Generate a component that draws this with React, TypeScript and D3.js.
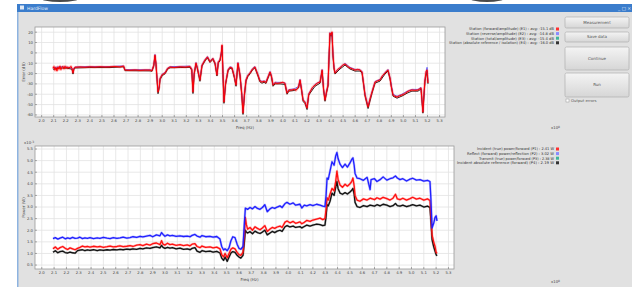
import React from 'react';
import * as d3 from 'd3';

// x in units of 1e8 Hz
const errRed: [number, number][] = [
  [2.094,-15.0],[2.102,-13.2],[2.110,-16.8],[2.118,-14.1],[2.127,-17.5],[2.135,-13.6],[2.143,-15.9],[2.152,-12.8],[2.160,-16.2],[2.168,-14.0],[2.177,-13.1],[2.185,-15.6],[2.194,-12.9],[2.202,-14.8],[2.210,-13.5],[2.218,-15.1],[2.227,-13.8],[2.235,-14.4],[2.243,-13.0],[2.252,-15.2],[2.260,-19.5],[2.268,-15.0],[2.277,-14.0],[2.318,-13.6],[2.360,-13.9],[2.401,-13.5],[2.442,-13.8],[2.484,-13.4],[2.525,-13.7],[2.567,-13.5],[2.608,-13.2],[2.650,-13.6],[2.680,-12.8],[2.691,-16.6],[2.733,-16.8],[2.775,-16.5],[2.816,-16.9],[2.858,-16.6],[2.899,-16.7],[2.915,-17.2],[2.930,-12.0],[2.940,-2.1],[2.948,-10.0],[2.957,-25.0],[2.965,-37.8],[2.975,-33.0],[2.982,-25.0],[3.000,-21.0],[3.023,-19.5],[3.045,-15.0],[3.065,-13.7],[3.100,-14.2],[3.148,-13.5],[3.190,-13.8],[3.230,-13.2],[3.245,-16.0],[3.255,-37.8],[3.265,-20.0],[3.280,-9.8],[3.290,-14.0],[3.313,-26.2],[3.330,-12.0],[3.355,-6.9],[3.375,-4.0],[3.396,-8.5],[3.420,-5.5],[3.438,-10.0],[3.454,-21.4],[3.465,-9.0],[3.479,-6.9],[3.490,0.0],[3.496,7.6],[3.504,-20.0],[3.512,-47.5],[3.525,-30.0],[3.546,-16.6],[3.562,-14.0],[3.579,-14.6],[3.600,-24.0],[3.612,-31.1],[3.628,-9.8],[3.645,-21.4],[3.660,-40.0],[3.670,-58.1],[3.682,-40.0],[3.695,-26.2],[3.710,-22.0],[3.728,-19.5],[3.750,-15.5],[3.769,-13.7],[3.794,-21.4],[3.810,-27.0],[3.827,-28.2],[3.845,-27.5],[3.860,-28.6],[3.894,-18.5],[3.905,-22.0],[3.919,-31.1],[3.935,-29.0],[3.952,-29.5],[3.977,-29.1],[4.000,-28.5],[4.018,-29.5],[4.035,-38.8],[4.050,-36.0],[4.076,-35.9],[4.095,-35.3],[4.110,-36.2],[4.130,-33.0],[4.143,-26.2],[4.155,-35.0],[4.168,-45.6],[4.185,-48.0],[4.201,-53.3],[4.215,-40.0],[4.226,-37.8],[4.245,-33.5],[4.267,-31.1],[4.290,-29.0],[4.309,-28.2],[4.326,-16.6],[4.338,-35.0],[4.350,-45.6],[4.362,-38.0],[4.375,-31.1],[4.383,-5.0],[4.391,19.2],[4.400,17.0],[4.408,20.2],[4.416,-2.0],[4.425,-14.6],[4.433,-19.5],[4.455,-16.0],[4.474,-14.6],[4.495,-12.0],[4.516,-10.8],[4.537,-13.0],[4.557,-14.6],[4.578,-15.5],[4.599,-16.6],[4.620,-16.0],[4.640,-16.6],[4.657,-18.5],[4.670,-30.0],[4.682,-40.7],[4.695,-47.0],[4.707,-52.3],[4.722,-45.0],[4.740,-37.8],[4.765,-28.2],[4.785,-27.0],[4.806,-26.2],[4.827,-22.0],[4.847,-19.5],[4.872,-16.6],[4.889,-24.3],[4.900,-33.0],[4.914,-40.7],[4.930,-42.0],[4.947,-42.7],[4.968,-41.5],[4.988,-40.7],[5.010,-39.5],[5.030,-37.8],[5.050,-36.5],[5.071,-35.9],[5.095,-36.2],[5.121,-35.9],[5.146,-34.0],[5.154,-45.0],[5.162,-57.2],[5.170,-40.0],[5.179,-26.2],[5.188,-18.0],[5.196,-16.6],[5.204,-29.1],
];
const errBlack: [number, number][] = [
  [2.094,-15.8],[2.152,-14.6],[2.210,-14.8],[2.252,-15.8],[2.260,-20.5],[2.268,-15.8],[2.277,-14.6],[2.400,-14.2],[2.567,-14.2],[2.680,-13.5],[2.691,-17.2],[2.899,-17.4],[2.915,-17.8],[2.930,-12.8],[2.940,-3.0],[2.948,-11.0],[2.957,-26.0],[2.965,-39.5],[2.975,-34.2],[2.982,-26.0],[3.000,-22.0],[3.023,-20.3],[3.045,-15.8],[3.065,-14.4],[3.148,-14.2],[3.230,-14.0],[3.245,-16.8],[3.255,-39.3],[3.265,-21.0],[3.280,-10.8],[3.290,-14.8],[3.313,-27.5],[3.330,-12.8],[3.355,-7.8],[3.375,-4.8],[3.396,-9.3],[3.420,-6.3],[3.438,-10.8],[3.454,-22.4],[3.465,-9.8],[3.479,-7.8],[3.490,-0.8],[3.496,6.6],[3.504,-21.0],[3.512,-48.8],[3.525,-31.0],[3.546,-17.4],[3.562,-14.8],[3.579,-15.4],[3.600,-25.0],[3.612,-32.3],[3.628,-10.8],[3.645,-22.4],[3.660,-41.3],[3.670,-59.5],[3.682,-41.3],[3.695,-27.3],[3.710,-23.0],[3.728,-20.3],[3.750,-16.3],[3.769,-14.5],[3.794,-22.4],[3.810,-28.0],[3.827,-29.3],[3.845,-28.5],[3.860,-29.6],[3.894,-19.5],[3.905,-23.0],[3.919,-32.3],[3.935,-30.0],[3.977,-30.0],[4.018,-30.5],[4.035,-40.0],[4.050,-37.0],[4.095,-36.4],[4.130,-34.0],[4.143,-27.3],[4.155,-36.0],[4.168,-46.8],[4.185,-49.2],[4.201,-54.8],[4.215,-41.0],[4.226,-39.0],[4.267,-32.3],[4.309,-29.3],[4.326,-17.6],[4.338,-36.0],[4.350,-46.8],[4.362,-39.0],[4.375,-32.3],[4.383,-6.0],[4.391,18.0],[4.400,16.0],[4.408,19.0],[4.416,-3.0],[4.425,-15.6],[4.433,-20.5],[4.474,-15.6],[4.516,-11.8],[4.557,-15.6],[4.599,-17.6],[4.640,-17.6],[4.657,-19.5],[4.670,-31.0],[4.682,-41.8],[4.707,-53.8],[4.740,-39.0],[4.765,-29.3],[4.806,-27.3],[4.847,-20.5],[4.872,-17.6],[4.889,-25.3],[4.914,-41.8],[4.947,-43.8],[4.988,-41.8],[5.030,-39.0],[5.071,-37.0],[5.121,-37.0],[5.146,-35.0],[5.162,-58.3],[5.179,-27.3],[5.196,-17.6],[5.204,-30.0],
];
const errBlue: [number, number][] = [
  [2.094,-14.4],[2.152,-13.4],[2.210,-13.8],[2.252,-14.6],[2.260,-18.8],[2.268,-14.6],[2.277,-13.6],[2.400,-13.2],[2.567,-13.2],[2.680,-12.6],[2.691,-16.2],[2.899,-16.3],[2.915,-16.8],[2.930,-11.6],[2.940,-1.5],[2.948,-9.6],[2.957,-24.5],[2.965,-36.8],[2.975,-32.5],[2.982,-24.5],[3.000,-20.5],[3.023,-19.0],[3.045,-14.6],[3.065,-13.3],[3.148,-13.1],[3.230,-12.8],[3.245,-15.5],[3.255,-36.5],[3.265,-19.5],[3.280,-9.3],[3.290,-13.5],[3.313,-25.6],[3.330,-11.5],[3.355,-6.4],[3.375,-3.5],[3.396,-8.0],[3.420,-5.0],[3.438,-9.5],[3.454,-20.8],[3.465,-8.5],[3.479,-6.4],[3.490,0.4],[3.496,7.0],[3.504,-19.5],[3.512,-46.5],[3.525,-29.4],[3.546,-16.1],[3.562,-13.5],[3.579,-14.1],[3.600,-23.5],[3.612,-30.5],[3.628,-9.3],[3.645,-20.8],[3.660,-39.4],[3.670,-57.0],[3.682,-39.4],[3.695,-25.6],[3.710,-21.5],[3.728,-19.0],[3.750,-15.0],[3.769,-13.2],[3.794,-20.8],[3.810,-26.4],[3.827,-27.6],[3.845,-27.0],[3.860,-28.0],[3.894,-18.0],[3.905,-21.5],[3.919,-30.5],[3.935,-28.4],[3.977,-28.5],[4.018,-29.0],[4.035,-38.0],[4.050,-35.5],[4.095,-34.8],[4.130,-32.5],[4.143,-25.6],[4.155,-34.5],[4.168,-45.0],[4.185,-47.4],[4.201,-52.6],[4.215,-39.4],[4.226,-37.2],[4.267,-30.5],[4.309,-27.6],[4.326,-16.1],[4.338,-34.5],[4.350,-45.0],[4.362,-37.4],[4.375,-30.5],[4.383,-4.5],[4.391,19.6],[4.400,17.5],[4.408,19.5],[4.416,-1.5],[4.425,-14.0],[4.433,-19.0],[4.474,-14.0],[4.516,-10.2],[4.557,-14.0],[4.599,-16.0],[4.640,-16.0],[4.657,-18.0],[4.670,-29.4],[4.682,-40.0],[4.707,-51.6],[4.740,-37.2],[4.765,-27.6],[4.806,-25.6],[4.847,-19.0],[4.872,-16.0],[4.889,-23.8],[4.914,-40.0],[4.947,-42.0],[4.988,-40.0],[5.030,-37.2],[5.071,-35.3],[5.121,-35.3],[5.146,-33.4],[5.162,-56.5],[5.179,-25.6],[5.196,-14.0],[5.204,-27.0],
];

const powBlue: [number, number][] = [
  [2.091,1.64],[2.110,1.68],[2.130,1.62],[2.148,1.66],[2.170,1.70],[2.190,1.63],[2.210,1.67],[2.229,1.64],[2.250,1.69],[2.270,1.65],[2.290,1.66],[2.310,1.70],[2.330,1.64],[2.350,1.67],[2.370,1.65],[2.391,1.68],[2.420,1.64],[2.450,1.67],[2.472,1.65],[2.500,1.69],[2.530,1.66],[2.554,1.64],[2.580,1.68],[2.610,1.65],[2.635,1.67],[2.660,1.70],[2.690,1.66],[2.716,1.68],[2.740,1.72],[2.770,1.69],[2.797,1.74],[2.820,1.71],[2.850,1.75],[2.878,1.78],[2.900,1.72],[2.930,1.80],[2.959,1.76],[2.972,1.90],[2.984,1.82],[3.000,1.74],[3.020,1.80],[3.040,1.76],[3.060,1.78],[3.090,1.74],[3.122,1.76],[3.150,1.73],[3.180,1.75],[3.203,1.72],[3.220,1.78],[3.243,1.82],[3.260,1.75],[3.284,1.70],[3.300,1.77],[3.330,1.72],[3.365,1.74],[3.390,1.70],[3.420,1.73],[3.446,1.62],[3.460,1.30],[3.475,1.15],[3.487,1.20],[3.505,1.12],[3.520,1.25],[3.535,1.55],[3.550,1.72],[3.568,1.68],[3.585,1.40],[3.600,1.22],[3.615,1.18],[3.633,1.30],[3.645,2.40],[3.652,2.95],[3.670,2.90],[3.690,2.98],[3.710,2.92],[3.730,3.02],[3.750,2.94],[3.771,2.90],[3.790,2.98],[3.810,3.10],[3.830,2.80],[3.852,2.92],[3.870,2.98],[3.890,2.94],[3.910,3.00],[3.933,3.05],[3.950,2.98],[3.974,3.15],[3.990,3.20],[4.014,3.12],[4.040,3.18],[4.060,3.08],[4.095,3.12],[4.110,2.96],[4.130,3.08],[4.150,3.05],[4.177,3.10],[4.200,3.06],[4.230,3.12],[4.258,3.08],[4.280,3.04],[4.298,3.02],[4.307,3.50],[4.315,4.25],[4.325,4.20],[4.339,4.55],[4.355,4.95],[4.372,4.80],[4.385,5.20],[4.395,5.35],[4.404,5.10],[4.420,4.85],[4.440,4.70],[4.461,4.85],[4.480,4.72],[4.501,4.90],[4.515,5.05],[4.525,5.12],[4.535,4.80],[4.542,4.45],[4.558,4.25],[4.582,4.22],[4.610,4.15],[4.640,4.28],[4.664,3.75],[4.672,4.18],[4.700,4.22],[4.720,4.10],[4.745,4.18],[4.770,4.30],[4.800,4.16],[4.826,4.22],[4.850,4.26],[4.870,4.34],[4.885,4.25],[4.907,4.18],[4.930,4.22],[4.960,4.12],[4.988,4.20],[5.010,4.24],[5.040,4.16],[5.069,4.18],[5.100,4.12],[5.130,4.15],[5.150,4.10],[5.158,3.30],[5.167,2.10],[5.180,2.30],[5.191,2.55],[5.200,2.62],[5.207,2.40],
];
const powRed: [number, number][] = [
  [2.091,1.20],[2.110,1.28],[2.130,1.18],[2.148,1.25],[2.170,1.30],[2.190,1.22],[2.210,1.17],[2.229,1.24],[2.250,1.20],[2.270,1.16],[2.290,1.22],[2.310,1.26],[2.330,1.32],[2.350,1.28],[2.370,1.30],[2.391,1.27],[2.420,1.31],[2.450,1.28],[2.472,1.30],[2.500,1.26],[2.530,1.29],[2.554,1.32],[2.580,1.28],[2.610,1.30],[2.635,1.33],[2.660,1.29],[2.690,1.31],[2.716,1.34],[2.740,1.30],[2.770,1.36],[2.797,1.38],[2.820,1.34],[2.850,1.40],[2.878,1.36],[2.900,1.42],[2.930,1.45],[2.959,1.38],[2.972,1.55],[2.984,1.40],[3.000,1.36],[3.020,1.44],[3.040,1.38],[3.060,1.40],[3.090,1.35],[3.122,1.38],[3.150,1.34],[3.180,1.37],[3.203,1.33],[3.220,1.40],[3.243,1.42],[3.260,1.30],[3.284,1.25],[3.300,1.32],[3.330,1.26],[3.365,1.28],[3.390,1.24],[3.420,1.27],[3.446,1.20],[3.460,0.95],[3.475,0.85],[3.487,1.00],[3.505,0.82],[3.520,1.00],[3.535,1.18],[3.550,1.24],[3.568,1.20],[3.585,1.05],[3.600,0.95],[3.615,0.92],[3.633,1.05],[3.645,1.90],[3.652,2.55],[3.660,2.25],[3.670,2.05],[3.690,2.12],[3.710,2.00],[3.730,2.15],[3.750,2.08],[3.771,2.02],[3.790,2.10],[3.810,2.20],[3.830,1.95],[3.852,2.05],[3.870,2.12],[3.890,2.08],[3.910,2.14],[3.933,2.18],[3.950,2.12],[3.974,2.35],[3.990,2.40],[4.014,2.32],[4.040,2.38],[4.060,2.30],[4.095,2.36],[4.110,2.28],[4.130,2.34],[4.150,2.42],[4.177,2.38],[4.200,2.44],[4.230,2.48],[4.258,2.52],[4.280,2.46],[4.298,2.50],[4.307,2.90],[4.315,3.40],[4.325,3.30],[4.339,3.55],[4.355,3.80],[4.372,3.70],[4.385,4.10],[4.395,4.55],[4.404,4.20],[4.420,3.95],[4.440,3.85],[4.461,3.98],[4.480,3.90],[4.501,4.00],[4.515,4.10],[4.525,4.25],[4.535,3.90],[4.542,3.50],[4.558,3.30],[4.582,3.25],[4.610,3.35],[4.640,3.30],[4.664,3.38],[4.700,3.32],[4.720,3.40],[4.745,3.34],[4.770,3.42],[4.800,3.36],[4.826,3.30],[4.850,3.38],[4.870,3.55],[4.885,3.35],[4.907,3.32],[4.930,3.38],[4.960,3.30],[4.988,3.36],[5.010,3.42],[5.040,3.34],[5.069,3.38],[5.100,3.30],[5.130,3.35],[5.150,3.28],[5.158,2.60],[5.167,1.80],[5.180,1.50],[5.191,1.30],[5.200,1.05],[5.207,1.00],
];
const powBlack: [number, number][] = [
  [2.091,1.05],[2.110,1.12],[2.130,1.03],[2.148,1.08],[2.170,1.10],[2.190,1.04],[2.210,1.02],[2.229,1.06],[2.250,1.03],[2.270,1.01],[2.290,1.12],[2.310,1.14],[2.330,1.16],[2.350,1.12],[2.370,1.15],[2.391,1.13],[2.420,1.16],[2.450,1.12],[2.472,1.15],[2.500,1.13],[2.530,1.16],[2.554,1.14],[2.580,1.17],[2.610,1.15],[2.635,1.18],[2.660,1.16],[2.690,1.19],[2.716,1.17],[2.740,1.20],[2.770,1.18],[2.797,1.22],[2.820,1.20],[2.850,1.24],[2.878,1.22],[2.900,1.25],[2.930,1.28],[2.959,1.24],[2.972,1.35],[2.984,1.26],[3.000,1.22],[3.020,1.26],[3.040,1.23],[3.060,1.25],[3.090,1.20],[3.122,1.23],[3.150,1.18],[3.180,1.20],[3.203,1.16],[3.220,1.22],[3.243,1.25],[3.260,1.10],[3.284,1.05],[3.300,1.12],[3.330,1.08],[3.365,1.10],[3.390,1.06],[3.420,1.09],[3.446,1.02],[3.460,0.80],[3.475,0.70],[3.487,0.85],[3.505,0.66],[3.520,0.85],[3.535,1.02],[3.550,1.08],[3.568,1.05],[3.585,0.92],[3.600,0.85],[3.615,0.80],[3.633,0.92],[3.645,1.55],[3.652,2.00],[3.660,1.92],[3.670,1.88],[3.690,1.94],[3.710,1.85],[3.730,1.96],[3.750,1.90],[3.771,1.86],[3.790,1.92],[3.810,2.00],[3.830,1.80],[3.852,1.88],[3.870,1.95],[3.890,1.90],[3.910,1.96],[3.933,2.00],[3.950,1.95],[3.974,2.15],[3.990,2.20],[4.014,2.14],[4.040,2.18],[4.060,2.12],[4.095,2.16],[4.110,2.10],[4.130,2.16],[4.150,2.22],[4.177,2.18],[4.200,2.22],[4.230,2.26],[4.258,2.24],[4.280,2.20],[4.298,2.22],[4.307,2.60],[4.315,3.10],[4.325,3.05],[4.339,3.25],[4.355,3.60],[4.372,3.50],[4.385,3.85],[4.395,4.10],[4.404,3.80],[4.420,3.60],[4.440,3.55],[4.461,3.62],[4.480,3.56],[4.501,3.65],[4.515,3.72],[4.525,3.80],[4.535,3.55],[4.542,3.20],[4.558,3.02],[4.582,2.98],[4.610,3.06],[4.640,3.02],[4.664,3.08],[4.700,3.04],[4.720,3.10],[4.745,3.05],[4.770,3.12],[4.800,3.08],[4.826,3.02],[4.850,3.06],[4.870,3.15],[4.885,3.06],[4.907,3.04],[4.930,3.08],[4.960,3.02],[4.988,3.06],[5.010,3.10],[5.040,3.05],[5.069,3.08],[5.100,3.00],[5.130,3.04],[5.150,2.98],[5.158,2.40],[5.167,1.60],[5.180,1.30],[5.191,1.10],[5.200,0.95],[5.207,0.90],
];

const freqTicks = [2.0,2.1,2.2,2.3,2.4,2.5,2.6,2.7,2.8,2.9,3.0,3.1,3.2,3.3,3.4,3.5,3.6,3.7,3.8,3.9,4.0,4.1,4.2,4.3,4.4,4.5,4.6,4.7,4.8,4.9,5.0,5.1,5.2,5.3];
const errTicks = [20,10,0,-10,-20,-30,-40,-50,-60];
const powTicks = [5.5,5.0,4.5,4.0,3.5,3.0,2.5,2.0,1.5,1.0,0.5];

const errLegend = [
  'Station (forward/amplitude) (E1) :  avg: -15.1 dB',
  'Station (reverse/amplitude) (E2) :  avg: -14.8 dB',
  'Station (total/amplitude) (E3) :  avg: -15.4 dB',
  'Station (absolute reference / isolation) (E4) :  avg: -16.0 dB',
];
const powLegend = [
  'Incident (true) power/forward (P1) :  2.41 W',
  'Reflect (forward) power/reflection (P2) :  3.02 W',
  'Transmit (true) power/forward (P3) :  2.38 W',
  'Incident absolute reference (forward) (P4) :  2.19 W',
];
const legendColors = ['#ff3030', '#8a8aff', '#3fb59b', '#333333'];
const buttons = ['Measurement', 'Save data', 'Continue', 'Run'];

const FONT = 'DejaVu Sans, sans-serif';
const TXT = '#444';

type Pt = [number, number];

interface PanelProps {
  left: number; right: number; top: number; bottom: number;
  yDomain: [number, number];
  yTicks: number[];
  yFmt: (v: number) => string;
  ylabel: string;
  series: { data: Pt[]; color: string; width: number; halo?: number }[];
}

const Panel: React.FC<PanelProps> = ({ left, right, top, bottom, yDomain, yTicks, yFmt, ylabel, series }) => {
  const x = d3.scaleLinear().domain([1.945, 5.345]).range([left, right]);
  const y = d3.scaleLinear().domain(yDomain).range([bottom, top]);
  const line = d3.line<Pt>().x(d => x(d[0])).y(d => y(d[1]));
  return (
    <g>
      <rect x={left} y={top} width={right - left} height={bottom - top} fill="#fff" />
      {freqTicks.map(t => (
        <line key={'gx' + t} x1={x(t)} x2={x(t)} y1={top} y2={bottom} stroke="#e2e2e2" strokeWidth={0.8} />
      ))}
      {yTicks.map(t => (
        <line key={'gy' + t} x1={left} x2={right} y1={y(t)} y2={y(t)} stroke="#e2e2e2" strokeWidth={0.8} />
      ))}
      <g>
        {series.map((s, i) => (
          <g key={i}>
            {s.halo && <path d={line(s.data) || ''} fill="none" stroke={s.color} strokeOpacity={0.28} strokeWidth={s.halo} strokeLinejoin="round" />}
            <path d={line(s.data) || ''} fill="none" stroke={s.color} strokeWidth={s.width} strokeLinejoin="round" />
          </g>
        ))}
      </g>
      <rect x={left} y={top} width={right - left} height={bottom - top} fill="none" stroke="#9a9a9a" strokeWidth={0.8} />
      {freqTicks.map(t => (
        <g key={'tx' + t}>
          <line x1={x(t)} x2={x(t)} y1={bottom} y2={bottom - 2} stroke="#777" strokeWidth={0.6} />
          <text x={x(t)} y={bottom + 5} fontSize={3.8} fill={TXT} textAnchor="middle" fontFamily={FONT}>{d3.format('.1f')(t)}</text>
        </g>
      ))}
      {yTicks.map(t => (
        <g key={'ty' + t}>
          <line x1={left} x2={left + 2} y1={y(t)} y2={y(t)} stroke="#777" strokeWidth={0.6} />
          <text x={left - 2} y={y(t) + 1.4} fontSize={3.8} fill={TXT} textAnchor="end" fontFamily={FONT}>{yFmt(t)}</text>
        </g>
      ))}
      <text transform={`translate(${left - 10},${(top + bottom) / 2}) rotate(-90)`} fontSize={4} fill={TXT} textAnchor="middle" fontFamily={FONT}>{ylabel}</text>
      <text x={(left + right) / 2 + 5} y={bottom + 12} fontSize={4} fill={TXT} textAnchor="middle" fontFamily={FONT}>Freq (Hz)</text>
    </g>
  );
};

const Legend: React.FC<{ right: number; top: number; labels: string[]; widths: number[] }> = ({ right, top, labels, widths }) => (
  <g>
    {labels.map((l, i) => (
      <g key={l}>
        <text x={right - 3 - widths[i]} y={top + i * 4.6 + 1.3} fontSize={3.8} fill="#333" fontFamily={FONT}
          textLength={widths[i]} lengthAdjust="spacingAndGlyphs">{l}</text>
        <rect x={right - 1} y={top + i * 4.6 - 1.5} width={3} height={3} fill={legendColors[i]} />
      </g>
    ))}
  </g>
);

const App: React.FC = () => {
  const W = 632, H = 287;
  const btnBoxes = [
    { y: 17, h: 11 },
    { y: 32, h: 10 },
    { y: 47, h: 23 },
    { y: 73, h: 24 },
  ];
  return (
    <svg width={W} height={H} style={{ position: 'absolute', left: 0, top: 0 }}>
      <defs>
        <linearGradient id="btn" x1="0" y1="0" x2="0" y2="1">
          <stop offset="0" stopColor="#f4f4f4" />
          <stop offset="1" stopColor="#d6d6d6" />
        </linearGradient>
      </defs>
      <rect width={W} height={H} fill="#fff" />
      <ellipse cx={60} cy={-2} rx={20} ry={4} fill="#4a4a4a" />
      <ellipse cx={487} cy={-2} rx={18} ry={4} fill="#4a4a4a" />
      <rect x={17} y={4} width={W - 17} height={H - 4} fill="#e1e1e1" />
      <rect x={17} y={4} width={W - 17} height={8} fill="#3b7dcc" />
      <rect x={17} y={12} width={1.5} height={H - 12} fill="#8db3e0" />
      <rect x={20} y={5.5} width={4} height={4} fill="#dfe8f3" />
      <text x={27} y={10} fontSize={4.5} fill="#e8f0fa" fontFamily={FONT}>HardFlow</text>
      <text x={618} y={10} fontSize={4.5} fill="#e8f0fa" fontFamily={FONT}>_ □ ×</text>

      <Panel left={35} right={445} top={27} bottom={117} yDomain={[-62, 25]} yTicks={errTicks}
        yFmt={v => String(v)} ylabel="Error (dB)"
        series={[
          { data: errBlack, color: '#222', width: 1.0 },
          { data: errBlue, color: '#4040ff', width: 0.8 },
          { data: errRed, color: '#ff0000', width: 1.0, halo: 2.6 },
        ]} />
      <Panel left={35} right={454} top={146} bottom={269} yDomain={[0.33, 5.63]} yTicks={powTicks}
        yFmt={v => d3.format('.1f')(v)} ylabel="Power (W)"
        series={[
          { data: powBlack, color: '#111', width: 1.3, halo: 2.2 },
          { data: powRed, color: '#ff1010', width: 1.3, halo: 2.4 },
          { data: powBlue, color: '#2020ff', width: 1.3, halo: 2.4 },
        ]} />

      <text x={24} y={144} fontSize={3.8} fill={TXT} fontFamily={FONT}>x10<tspan dy={-1.5} fontSize={3}>-3</tspan></text>
      <text x={551} y={129} fontSize={3.8} fill={TXT} fontFamily={FONT}>x10<tspan dy={-1.5} fontSize={3}>8</tspan></text>
      <text x={551} y={283} fontSize={3.8} fill={TXT} fontFamily={FONT}>x10<tspan dy={-1.5} fontSize={3}>8</tspan></text>

      <Legend right={557} top={29} labels={errLegend} widths={[85, 88, 83, 105]} />
      <Legend right={557} top={149} labels={powLegend} widths={[77, 87, 75, 97]} />

      {buttons.map((b, i) => (
        <g key={b}>
          <rect x={565} y={btnBoxes[i].y} width={64} height={btnBoxes[i].h} rx={1.5} fill="url(#btn)" stroke="#b0b0b0" strokeWidth={0.7} />
          <text x={597} y={btnBoxes[i].y + btnBoxes[i].h / 2 + 1.4} fontSize={4} fill="#555" textAnchor="middle" fontFamily={FONT}>{b}</text>
        </g>
      ))}
      <rect x={566} y={99} width={3} height={3} fill="#fff" stroke="#999" strokeWidth={0.5} />
      <text x={571} y={101.8} fontSize={3.8} fill="#555" fontFamily={FONT}>Output errors</text>
    </svg>
  );
};

export default App;
